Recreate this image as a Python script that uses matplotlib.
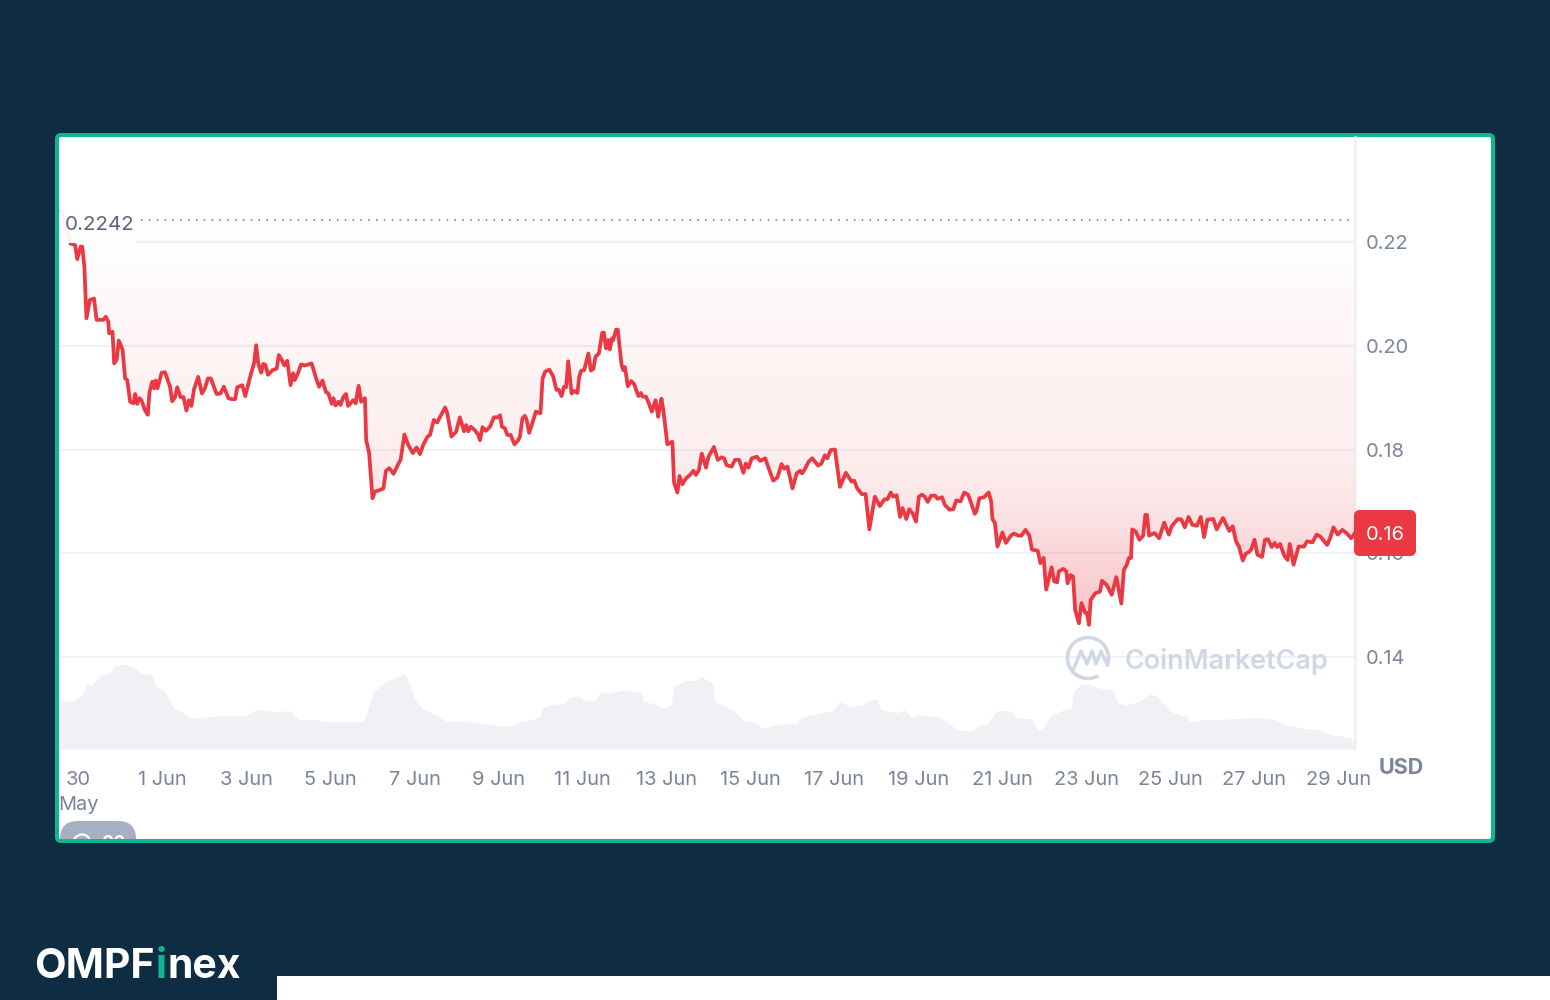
# -*- coding: utf-8 -*-
import numpy as np
import matplotlib.pyplot as plt
from matplotlib.patches import FancyBboxPatch, Rectangle, Arc, Circle
from matplotlib.colors import to_rgb

plt.rcParams['font.family'] = ['Inter', 'DejaVu Sans']

# days since 30 May and price in USD
price_days = [-0.40, -0.28, -0.19, -0.08, -0.03, 0.05, 0.09, 0.14, 0.19, 0.27, 0.37, 0.43, 0.59, 0.65, 0.71, 0.73, 0.81, 0.85, 0.91, 0.96,
              1.05, 1.11, 1.16, 1.23, 1.31, 1.35, 1.40, 1.45, 1.50, 1.58, 1.65, 1.69, 1.76, 1.80, 1.84, 1.88, 1.98,
              2.06, 2.18, 2.23, 2.30, 2.35, 2.43, 2.50, 2.57, 2.63, 2.69, 2.75, 2.85, 2.94,
              3.01, 3.08, 3.15, 3.29, 3.38, 3.46, 3.57, 3.65, 3.73, 3.78, 3.90, 3.97,
              4.12, 4.18, 4.23, 4.28, 4.35, 4.40, 4.45, 4.51, 4.62, 4.72, 4.77, 4.84, 4.90, 4.97,
              5.05, 5.11, 5.15, 5.23, 5.30, 5.39, 5.55, 5.67, 5.73, 5.81, 5.89, 5.95,
              6.03, 6.07, 6.12, 6.19, 6.24, 6.31, 6.37, 6.42, 6.54, 6.60, 6.67, 6.73, 6.82, 6.85, 6.92,
              7.00, 7.06, 7.18, 7.26, 7.32, 7.40, 7.50, 7.62, 7.67, 7.76, 7.85, 7.96,
              8.05, 8.13, 8.21, 8.31, 8.37, 8.46, 8.54, 8.61, 8.73, 8.78, 8.88, 8.99,
              9.08, 9.18, 9.23, 9.28, 9.34, 9.44, 9.52, 9.56, 9.62, 9.70, 9.80, 9.89, 9.98,
              10.04, 10.08, 10.15, 10.21, 10.29, 10.38, 10.47, 10.51, 10.57, 10.63, 10.67, 10.73, 10.83, 10.89,
              11.00, 11.05, 11.11, 11.21, 11.30, 11.38, 11.44, 11.50, 11.56, 11.61, 11.66, 11.74, 11.80, 11.88, 11.92, 11.97,
              12.04, 12.14, 12.20, 12.26, 12.31, 12.39, 12.47, 12.51, 12.56, 12.61, 12.65, 12.70, 12.73, 12.80, 12.84, 12.93, 12.97,
              13.01, 13.08, 13.16, 13.23, 13.33, 13.39, 13.43, 13.51, 13.58, 13.65, 13.74, 13.80, 13.88, 13.92,
              14.02, 14.14, 14.18, 14.26, 14.31, 14.38, 14.46, 14.56, 14.64, 14.70, 14.77, 14.84, 14.94,
              15.00, 15.13, 15.22, 15.31, 15.37, 15.43, 15.55, 15.63, 15.73, 15.83, 15.89, 15.95,
              16.03, 16.15, 16.23, 16.35, 16.45, 16.54, 16.64, 16.74, 16.80, 16.88,
              17.00, 17.10, 17.18, 17.23, 17.30, 17.38, 17.47, 17.61, 17.69, 17.77, 17.83, 17.91,
              18.01, 18.13, 18.27, 18.41, 18.47, 18.54, 18.65, 18.74, 18.83, 18.96,
              19.08, 19.19, 19.26, 19.34, 19.40, 19.48, 19.56, 19.62, 19.71, 19.78, 19.86, 19.94,
              20.01, 20.08, 20.15, 20.22, 20.30, 20.40, 20.45, 20.56, 20.63, 20.74, 20.83, 20.90,
              21.00, 21.09, 21.18, 21.27, 21.34, 21.38, 21.45, 21.56, 21.67, 21.73, 21.76, 21.82, 21.88,
              22.00, 22.08, 22.20, 22.27, 22.38, 22.45, 22.55, 22.64, 22.70, 22.84, 22.90, 22.98,
              23.04, 23.17, 23.23, 23.30, 23.34, 23.45, 23.52, 23.55, 23.62, 23.68, 23.73, 23.82, 23.88, 23.97,
              24.01, 24.06, 24.10, 24.21, 24.32, 24.37, 24.48, 24.60, 24.71, 24.83, 24.89, 24.96,
              25.01, 25.06, 25.09, 25.17, 25.26, 25.35, 25.40, 25.44, 25.49, 25.62, 25.73, 25.85, 25.96,
              26.03, 26.17, 26.26, 26.34, 26.43, 26.52, 26.63, 26.72, 26.80, 26.88,
              27.02, 27.10, 27.25, 27.40, 27.48, 27.56, 27.63, 27.72, 27.79, 27.88, 27.92,
              28.00, 28.07, 28.18, 28.25, 28.32, 28.41, 28.48, 28.54, 28.61, 28.71, 28.79, 28.84, 28.93,
              29.05, 29.18, 29.25, 29.38, 29.48, 29.57, 29.73, 29.80, 29.88, 29.98,
              30.09, 30.19, 30.30, 30.39]
prices = [0.2259, 0.2223, 0.2197, 0.2194, 0.2167, 0.2191, 0.2191, 0.2152, 0.2053, 0.2088, 0.2091, 0.2050, 0.2050, 0.2056, 0.2046, 0.2024, 0.2027, 0.1966, 0.1973, 0.2010,
          0.1992, 0.1937, 0.1934, 0.1892, 0.1889, 0.1907, 0.1888, 0.1899, 0.1895, 0.1876, 0.1867, 0.1911, 0.1931, 0.1918, 0.1933, 0.1918, 0.1948,
          0.1949, 0.1921, 0.1893, 0.1901, 0.1920, 0.1901, 0.1901, 0.1875, 0.1895, 0.1884, 0.1916, 0.1940, 0.1908,
          0.1918, 0.1937, 0.1937, 0.1907, 0.1908, 0.1921, 0.1899, 0.1897, 0.1897, 0.1920, 0.1924, 0.1903,
          0.1950, 0.1966, 0.2001, 0.1966, 0.1948, 0.1965, 0.1963, 0.1944, 0.1953, 0.1956, 0.1982, 0.1973, 0.1962, 0.1971,
          0.1924, 0.1947, 0.1934, 0.1948, 0.1964, 0.1962, 0.1966, 0.1934, 0.1921, 0.1933, 0.1911, 0.1908,
          0.1888, 0.1899, 0.1885, 0.1892, 0.1886, 0.1902, 0.1907, 0.1884, 0.1895, 0.1889, 0.1923, 0.1892, 0.1899, 0.1818, 0.1793,
          0.1706, 0.1719, 0.1722, 0.1725, 0.1759, 0.1764, 0.1753, 0.1773, 0.1780, 0.1829, 0.1809, 0.1793,
          0.1804, 0.1791, 0.1809, 0.1825, 0.1828, 0.1857, 0.1852, 0.1863, 0.1881, 0.1870, 0.1825, 0.1834,
          0.1862, 0.1835, 0.1847, 0.1835, 0.1844, 0.1837, 0.1828, 0.1818, 0.1843, 0.1836, 0.1844, 0.1862, 0.1862,
          0.1866, 0.1844, 0.1841, 0.1828, 0.1828, 0.1810, 0.1818, 0.1825, 0.1860, 0.1865, 0.1857, 0.1832, 0.1857, 0.1873,
          0.1870, 0.1937, 0.1950, 0.1954, 0.1941, 0.1915, 0.1915, 0.1903, 0.1921, 0.1920, 0.1970, 0.1908, 0.1913, 0.1909, 0.1940, 0.1952,
          0.1953, 0.1985, 0.1952, 0.1956, 0.1979, 0.1985, 0.2025, 0.2025, 0.1995, 0.2011, 0.1993, 0.2014, 0.2011, 0.2031, 0.2031, 0.1963, 0.1953,
          0.1959, 0.1922, 0.1932, 0.1926, 0.1903, 0.1909, 0.1902, 0.1902, 0.1889, 0.1873, 0.1895, 0.1863, 0.1898, 0.1879,
          0.1810, 0.1815, 0.1736, 0.1717, 0.1749, 0.1733, 0.1744, 0.1751, 0.1759, 0.1751, 0.1760, 0.1792, 0.1765,
          0.1786, 0.1805, 0.1780, 0.1785, 0.1783, 0.1770, 0.1767, 0.1780, 0.1780, 0.1755, 0.1773, 0.1765,
          0.1783, 0.1786, 0.1778, 0.1783, 0.1760, 0.1740, 0.1746, 0.1772, 0.1763, 0.1767,
          0.1725, 0.1754, 0.1759, 0.1754, 0.1763, 0.1776, 0.1783, 0.1769, 0.1773, 0.1789, 0.1783, 0.1799,
          0.1800, 0.1728, 0.1755, 0.1738, 0.1740, 0.1725, 0.1714, 0.1714, 0.1646, 0.1709,
          0.1691, 0.1704, 0.1704, 0.1717, 0.1709, 0.1712, 0.1670, 0.1687, 0.1666, 0.1685, 0.1677, 0.1661,
          0.1709, 0.1713, 0.1709, 0.1699, 0.1711, 0.1711, 0.1705, 0.1708, 0.1693, 0.1684, 0.1685, 0.1702,
          0.1700, 0.1717, 0.1713, 0.1693, 0.1676, 0.1681, 0.1706, 0.1708, 0.1717, 0.1700, 0.1666, 0.1658, 0.1613,
          0.1640, 0.1620, 0.1634, 0.1638, 0.1634, 0.1634, 0.1645, 0.1634, 0.1607, 0.1605, 0.1581, 0.1591,
          0.1530, 0.1573, 0.1546, 0.1544, 0.1565, 0.1570, 0.1565, 0.1542, 0.1558, 0.1555, 0.1491, 0.1465, 0.1504, 0.1485,
          0.1485, 0.1462, 0.1510, 0.1523, 0.1526, 0.1547, 0.1539, 0.1520, 0.1554, 0.1503, 0.1568, 0.1578,
          0.1591, 0.1591, 0.1646, 0.1642, 0.1626, 0.1634, 0.1674, 0.1674, 0.1634, 0.1639, 0.1629, 0.1659, 0.1636,
          0.1652, 0.1666, 0.1665, 0.1650, 0.1670, 0.1655, 0.1653, 0.1670, 0.1631, 0.1665,
          0.1666, 0.1646, 0.1668, 0.1643, 0.1652, 0.1623, 0.1613, 0.1586, 0.1599, 0.1603, 0.1607,
          0.1626, 0.1597, 0.1593, 0.1626, 0.1627, 0.1612, 0.1620, 0.1612, 0.1618, 0.1595, 0.1587, 0.1618, 0.1578,
          0.1613, 0.1613, 0.1623, 0.1621, 0.1636, 0.1632, 0.1616, 0.1629, 0.1650, 0.1636,
          0.1645, 0.1639, 0.1629, 0.1639]

# volume, no scale in the picture so the unit is arbitrary
volume_days = [-0.46, -0.16, 0.12, 0.19, 0.31, 0.51, 0.79, 0.83, 1.11, 1.35, 1.46, 1.74, 1.82, 2.06, 2.26, 2.46, 2.69, 3.45, 4.00, 4.24, 4.64,
               5.04, 5.27, 5.67, 5.83, 6.78, 6.90, 7.02, 7.34, 7.77, 7.89, 8.01, 8.21, 8.53, 8.77, 9.08, 9.56, 9.96, 10.27,
               10.51, 10.83, 10.99, 11.03, 11.22, 11.54, 11.70, 11.94, 12.06, 12.30, 12.41, 12.65, 12.97, 13.41, 13.45, 13.68, 13.92,
               14.12, 14.16, 14.44, 14.72, 14.83, 15.10, 15.15, 15.43, 15.63, 15.83, 16.11, 16.30, 16.62, 16.94,
               17.10, 17.22, 17.57, 17.97, 18.11, 18.21, 18.41, 18.69, 18.81, 19.00, 19.12, 19.48, 19.68, 19.84, 19.96, 20.43, 20.67, 20.95,
               21.27, 21.46, 21.62, 21.86, 22.18, 22.34, 22.69, 22.85, 22.93, 23.13, 23.45, 23.64, 23.68, 23.88,
               24.08, 24.32, 24.60, 24.76, 24.95, 25.23, 25.51, 25.67, 26.02, 26.38, 26.46, 26.70, 27.25, 27.65, 28.13, 28.52, 28.76,
               29.16, 29.56, 29.87, 30.31, 30.33, 30.36, 30.39]
volumes = [49.7, 47, 55.7, 65.7, 64, 73, 77.3, 83, 85, 80.7, 75.7, 75, 64, 57.3, 40.7, 37.3, 30.7, 33.3, 33.3, 39.7, 37.3,
           38.3, 29, 29.7, 27.3, 27.3, 40.7, 57.3, 68.3, 75, 64, 49, 39.7, 34, 27.3, 28.3, 25.7, 23.3, 23.3,
           27.3, 29.7, 32.3, 40.7, 44, 45.7, 51.7, 53, 48, 48.3, 56.3, 55.7, 59, 56.3, 47.3, 45.7, 40.7,
           44.7, 62.3, 68, 69, 72.3, 65.7, 47.3, 42.3, 37.3, 28.3, 26.7, 20.7, 24, 25.7,
           25.7, 32.3, 35, 38.3, 47.3, 45.7, 42.3, 44, 49, 49.7, 39, 36.3, 39, 31.7, 34.7, 32.3, 27.3, 18.3,
           18.3, 24, 24, 38.3, 38.3, 31.7, 30, 19, 18.3, 33, 39, 40.7, 57.3, 65,
           64, 60.7, 59.7, 45.7, 44, 47.3, 55, 53, 37.3, 32.3, 27.3, 29, 29.7, 30.7, 31.7, 29, 24,
           20.7, 19, 14, 11.7, 4, 13, 13]

tick_days = list(range(0, 31, 2))
tick_labels = ['30\nMay', '1 Jun', '3 Jun', '5 Jun', '7 Jun', '9 Jun', '11 Jun', '13 Jun', '15 Jun', '17 Jun',
               '19 Jun', '21 Jun', '23 Jun', '25 Jun', '27 Jun', '29 Jun']
price_ticks = [0.14, 0.16, 0.18, 0.20, 0.22]
price_labels = ['0.14', '0.16', '0.18', '0.20', '0.22']
high_value = 0.2242
last_label = '0.16'

W, H = 1550, 1000
BG = '#0e2c42'
GREEN = '#10b592'
RED = '#ea3943'
TICK = '#7a859b'
GRID = '#eff2f5'

fig = plt.figure(figsize=(W / 100, H / 100), dpi=100, facecolor=BG)

# background layer in pixel coordinates
bg = fig.add_axes([0, 0, 1, 1], zorder=0)
bg.set_xlim(0, W)
bg.set_ylim(H, 0)
bg.axis('off')
bg.add_patch(FancyBboxPatch((57, 135), 1436, 706, boxstyle='round,pad=0,rounding_size=4',
                            fc='white', ec=GREEN, lw=2.9))
bg.add_patch(Rectangle((277, 976), W - 277, 24, fc='white', ec='none'))

# plot area
ax = fig.add_axes([59 / W, 1 - 749 / H, (1355 - 59) / W, (749 - 137) / H], zorder=1)
ax.patch.set_alpha(0)
ax.set_xlim(-0.464, 30.393)
ax.set_ylim(0.12227, 0.24024)
for side in ['left', 'top', 'bottom', 'right']:
    ax.spines[side].set_visible(False)

# volume on its own hidden scale, one unit is one pixel here
ax2 = ax.twinx()
ax2.set_ylim(0, 749 - 137)
ax2.axis('off')
ax2.set_zorder(0)
ax2.fill_between(volume_days, 0, volumes, color='#eff1f4', lw=0, zorder=1)
ax.set_zorder(1)

ax.yaxis.tick_right()
ax.set_yticks(price_ticks)
ax.set_yticklabels(price_labels)
ax.set_xticks(tick_days)
ax.set_xticklabels(tick_labels, linespacing=1.48, va='top')
ax.tick_params(axis='y', length=0, pad=8, labelsize=14.4, labelcolor=TICK)
ax.tick_params(axis='x', length=0, pad=16, labelsize=14.4, labelcolor=TICK)
ax.grid(axis='y', color=GRID, lw=1.4, zorder=1)
ax.set_axisbelow(True)
ax.axvline(30.393, color=GRID, lw=1.8, clip_on=False, zorder=1)

# pink gradient between the high line and the price
poly = ax.fill_between(price_days, prices, high_value, facecolor='none', lw=0)
ypix = np.arange(137, 750)
stops_y = [220, 350, 450, 500, 550, 625, 749]
stops_a = [0.0, 0.055, 0.085, 0.13, 0.20, 0.30, 0.30]
grad = np.zeros((len(ypix), 1, 4))
grad[:, :, :3] = to_rgb(RED)
grad[:, 0, 3] = np.interp(ypix, stops_y, stops_a)
im = ax.imshow(grad, extent=[-0.464, 30.393, 0.12227, 0.24024], origin='upper', aspect='auto',
               zorder=2, interpolation='bilinear')
im.set_clip_path(poly.get_paths()[0], transform=ax.transData)
ax.set_xlim(-0.464, 30.393)
ax.set_ylim(0.12227, 0.24024)

ax.plot(price_days, prices, color=RED, lw=2.7, zorder=4, solid_joinstyle='round')
ax.plot([1.49, 30.27], [high_value, high_value], color='#7a859b', lw=1.2, dashes=(1, 3.7), zorder=4)

# overlay for the label, badge, watermark and logo
ov = fig.add_axes([0, 0, 1, 1], zorder=3)
ov.set_xlim(0, W)
ov.set_ylim(H, 0)
ov.axis('off')
ov.patch.set_alpha(0)

ov.add_patch(Rectangle((60, 209), 76, 34, fc='white', ec='none', alpha=0.93))
ov.text(65, 225, f'{high_value:.4f}', color='#58667e', fontsize=14.8, va='center', ha='left')

ov.add_patch(FancyBboxPatch((1354, 510), 62, 46, boxstyle='round,pad=0,rounding_size=6', fc=RED, ec='none'))
ov.text(1385, 535.5, last_label, color='white', fontsize=14.4, va='center', ha='center')
ov.text(1401.5, 768.5, 'USD', color=TICK, fontsize=15.5, fontweight='bold', va='center', ha='center')

# watermark
WM = '#d0d8e5'
ov.add_patch(Arc((1088, 658), 41, 41, theta1=60, theta2=25, color=WM, lw=2.6))
ov.plot([1074, 1081, 1087, 1092, 1096, 1101, 1106], [668, 651, 664, 651, 664, 651, 662], color=WM, lw=2.4)
ov.text(1125, 661.5, 'CoinMarketCap', color=WM, fontsize=19.4, fontweight='semibold', va='center', ha='left')

# pill cut off by the card border
clip = Rectangle((59, 780), 200, 59, transform=ov.transData)
pill = FancyBboxPatch((60, 821), 76, 40, boxstyle='round,pad=0,rounding_size=18', fc='#a6b0c3', ec='none')
ov.add_patch(pill)
pill.set_clip_path(clip)
clock = Circle((82, 843), 8.5, fc='none', ec='white', lw=1.6)
ov.add_patch(clock)
clock.set_clip_path(clip)
t = ov.text(113, 843, '00', color='white', fontsize=13, fontweight='bold', va='center', ha='center')
t.set_clip_on(True)
t.set_clip_path(clip)

# logo, pieces placed one after another
fig.canvas.draw()
rend = fig.canvas.get_renderer()
x = 34
for s, c in [('OMPF', 'white'), ('i', GREEN), ('nex', 'white')]:
    tx = ov.text(x, 978, s, color=c, fontsize=29.5, fontweight='bold', va='baseline', ha='left')
    box = tx.get_window_extent(rend)
    x += box.width + 1

fig.savefig('out.png', dpi=100, facecolor=BG)
